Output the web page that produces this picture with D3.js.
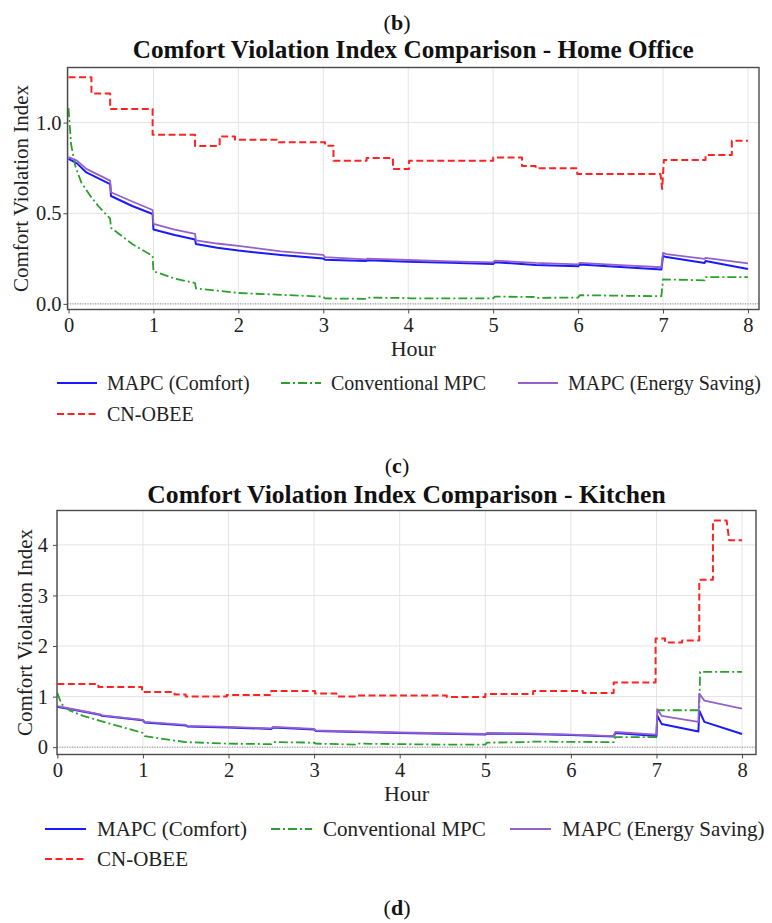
<!DOCTYPE html>
<html>
<head>
<meta charset="utf-8">
<script src="https://cdn.jsdelivr.net/npm/d3@7"></script>
<style>
body { margin: 0; background: #fff; }
svg { display: block; font-family: "Liberation Serif", "Times New Roman", serif; }
</style>
</head>
<body>
<div id="chart"></div>
<script>
// ---- data: [hour, comfort violation index] ----
var hours = [0, 1, 2, 3, 4, 5, 6, 7, 8];
var seriesNames = ["MAPC (Comfort)", "Conventional MPC", "MAPC (Energy Saving)", "CN-OBEE"];
var officeTicks = [0, 0.5, 1.0];
var kitchenTicks = [0, 1, 2, 3, 4];

var officeComfort = [[0,0.80],[0.1,0.775],[0.21,0.725],[0.49,0.661],[0.5,0.595],[0.75,0.54],[0.99,0.496],[1.0,0.41],[1.25,0.38],[1.49,0.355],[1.5,0.33],[1.75,0.31],[2.0,0.294],[2.5,0.27],[3.0,0.25],[3.02,0.244],[3.5,0.236],[3.52,0.241],[4.0,0.233],[4.5,0.227],[5.0,0.22],[5.02,0.23],[5.5,0.215],[6.0,0.207],[6.02,0.217],[6.5,0.203],[6.98,0.189],[7.0,0.264],[7.04,0.258],[7.49,0.226],[7.5,0.236],[8.0,0.193]];
var officeConventional = [[0,1.08],[0.03,0.88],[0.08,0.76],[0.15,0.67],[0.25,0.6],[0.35,0.54],[0.49,0.47],[0.5,0.42],[0.75,0.33],[0.99,0.265],[1.0,0.18],[1.25,0.14],[1.49,0.115],[1.5,0.085],[1.75,0.073],[2.0,0.06],[2.5,0.05],[3.0,0.04],[3.02,0.03],[3.5,0.028],[3.52,0.035],[4.0,0.032],[4.02,0.03],[5.0,0.03],[5.02,0.04],[5.5,0.038],[5.52,0.033],[6.0,0.035],[6.02,0.048],[6.98,0.042],[7.0,0.135],[7.49,0.13],[7.5,0.148],[8.0,0.148]];
var officeEnergy = [[0,0.81],[0.1,0.79],[0.21,0.745],[0.49,0.68],[0.5,0.616],[0.75,0.565],[0.99,0.518],[1.0,0.441],[1.25,0.41],[1.49,0.386],[1.5,0.35],[1.75,0.333],[2.0,0.32],[2.5,0.29],[3.0,0.27],[3.02,0.258],[3.5,0.246],[3.52,0.25],[4.0,0.242],[4.5,0.235],[5.0,0.229],[5.02,0.239],[5.5,0.226],[6.0,0.218],[6.02,0.226],[6.5,0.214],[6.98,0.202],[7.0,0.281],[7.04,0.274],[7.49,0.248],[7.5,0.254],[8.0,0.224]];
var officeObee = [[0,1.25],[0.27,1.25],[0.27,1.16],[0.49,1.16],[0.49,1.075],[0.99,1.075],[0.99,0.933],[1.49,0.933],[1.49,0.871],[1.78,0.871],[1.78,0.924],[1.96,0.924],[1.96,0.906],[2.45,0.906],[2.45,0.891],[3.02,0.891],[3.02,0.873],[3.12,0.873],[3.12,0.79],[3.51,0.79],[3.51,0.805],[3.82,0.805],[3.82,0.744],[4.01,0.744],[4.01,0.79],[5.0,0.79],[5.0,0.808],[5.34,0.808],[5.34,0.76],[5.5,0.76],[5.5,0.748],[5.99,0.748],[5.99,0.717],[6.97,0.717],[6.99,0.634],[7.01,0.794],[7.5,0.794],[7.5,0.821],[7.81,0.821],[7.81,0.9],[8.0,0.9]];

var kitchenComfort = [[0,0.80],[0.25,0.72],[0.5,0.64],[0.52,0.62],[1.0,0.53],[1.02,0.49],[1.5,0.43],[1.52,0.41],[2.0,0.39],[2.5,0.36],[2.52,0.39],[3.0,0.35],[3.02,0.32],[3.5,0.30],[4.0,0.28],[4.5,0.265],[5.0,0.25],[5.02,0.27],[5.5,0.26],[6.0,0.24],[6.5,0.21],[6.52,0.28],[7.0,0.22],[7.01,0.62],[7.06,0.46],[7.49,0.31],[7.5,0.72],[7.56,0.5],[8.0,0.26]];
var kitchenConventional = [[0,1.07],[0.05,0.85],[0.15,0.72],[0.3,0.62],[0.5,0.52],[0.75,0.4],[1.0,0.28],[1.02,0.22],[1.25,0.16],[1.5,0.1],[2.0,0.07],[2.5,0.06],[2.52,0.1],[3.0,0.09],[3.02,0.07],[3.5,0.05],[3.52,0.07],[4.5,0.05],[5.0,0.05],[5.02,0.09],[5.5,0.1],[5.52,0.11],[6.5,0.1],[6.52,0.2],[7.0,0.2],[7.01,0.73],[7.5,0.73],[7.51,1.49],[8.0,1.49]];
var kitchenEnergy = [[0,0.81],[0.25,0.73],[0.5,0.65],[0.52,0.63],[1.0,0.54],[1.02,0.5],[1.5,0.44],[1.52,0.42],[2.0,0.40],[2.5,0.37],[2.52,0.40],[3.0,0.36],[3.02,0.33],[3.5,0.31],[4.0,0.29],[4.5,0.275],[5.0,0.26],[5.02,0.28],[5.5,0.27],[6.0,0.25],[6.5,0.22],[6.52,0.3],[7.0,0.25],[7.01,0.75],[7.06,0.62],[7.49,0.5],[7.5,1.06],[7.56,0.92],[8.0,0.76]];
var kitchenObee = [[0,1.25],[0.48,1.25],[0.48,1.19],[0.99,1.19],[0.99,1.09],[1.37,1.09],[1.37,1.04],[1.5,1.04],[1.5,1.0],[1.98,1.0],[1.98,1.03],[2.5,1.03],[2.5,1.11],[3.01,1.11],[3.01,1.06],[3.26,1.06],[3.26,1.0],[3.5,1.0],[3.5,1.02],[4.55,1.02],[4.55,0.99],[5.0,0.99],[5.0,1.05],[5.56,1.05],[5.56,1.11],[6.14,1.11],[6.14,1.07],[6.5,1.07],[6.5,1.28],[6.99,1.28],[6.99,2.15],[7.1,2.15],[7.1,2.07],[7.3,2.07],[7.3,2.11],[7.5,2.11],[7.5,3.31],[7.66,3.31],[7.66,4.48],[7.82,4.48],[7.85,4.09],[8.0,4.09]];

// ---- styles for the four series ----
var seriesStyle = [
    {color: "#1a1aff", width: 2, dash: null},
    {color: "#2ca02c", width: 1.8, dash: "9,3,2,3"},
    {color: "#9561c9", width: 1.8, dash: null},
    {color: "#ff2222", width: 2, dash: "7,3.5"}
];

var svg = d3.select("#chart").append("svg")
    .attr("width", 772)
    .attr("height", 923);

var lineGen = d3.line();

function panelLetter(cx, cy, ch) {
    var t = svg.append("text")
        .attr("x", cx).attr("y", cy)
        .attr("text-anchor", "middle").attr("dy", "0.35em")
        .attr("fill", "#111")
        .style("font-size", "22px");
    t.append("tspan").text("(");
    t.append("tspan").style("font-weight", "bold").text(ch);
    t.append("tspan").text(")");
}

function drawPanel(p) {
    var x = d3.scaleLinear().domain(p.xDomain).range([p.left, p.right]);
    var y = d3.scaleLinear().domain(p.yDomain).range([p.bottom, p.top]);
    var g = svg.append("g");

    panelLetter(397, p.letterY, p.letter);

    g.append("text")
        .attr("x", (p.left + p.right) / 2)
        .attr("y", p.titleY)
        .attr("text-anchor", "middle")
        .attr("fill", "#111")
        .style("font-size", p.titleSize + "px")
        .style("font-weight", "bold")
        .text(p.title);

    // grid
    g.selectAll(".vgrid").data(hours).enter().append("line")
        .attr("x1", function (d) { return x(d); })
        .attr("x2", function (d) { return x(d); })
        .attr("y1", p.top).attr("y2", p.bottom)
        .attr("stroke", "#e4e4e4").attr("stroke-width", 1);
    g.selectAll(".hgrid").data(p.yTicks).enter().append("line")
        .attr("y1", function (d) { return y(d); })
        .attr("y2", function (d) { return y(d); })
        .attr("x1", p.left).attr("x2", p.right)
        .attr("stroke", "#e4e4e4").attr("stroke-width", 1);
    g.append("line")
        .attr("x1", p.left).attr("x2", p.right)
        .attr("y1", y(0)).attr("y2", y(0))
        .attr("stroke", "#888").attr("stroke-width", 1)
        .attr("stroke-dasharray", "1,1.5");

    var clipId = "clip-" + p.letter;
    svg.append("clipPath").attr("id", clipId)
        .append("rect")
        .attr("x", p.left).attr("y", p.top)
        .attr("width", p.right - p.left).attr("height", p.bottom - p.top);

    lineGen.x(function (d) { return x(d[0]); })
        .y(function (d) { return y(d[1]); });

    g.append("g").attr("clip-path", "url(#" + clipId + ")")
        .selectAll("path").data(p.series).enter().append("path")
        .attr("d", function (d) { return lineGen(d); })
        .attr("fill", "none")
        .attr("stroke", function (d, i) { return seriesStyle[i].color; })
        .attr("stroke-width", function (d, i) { return seriesStyle[i].width; })
        .attr("stroke-dasharray", function (d, i) { return seriesStyle[i].dash; })
        .attr("stroke-linejoin", "round");

    // frame
    g.append("rect")
        .attr("x", p.left).attr("y", p.top)
        .attr("width", p.right - p.left).attr("height", p.bottom - p.top)
        .attr("fill", "none").attr("stroke", "#4a4a4a").attr("stroke-width", 1.4);

    // axes
    var xAxis = g.append("g")
        .attr("transform", "translate(0," + p.bottom + ")")
        .call(d3.axisBottom(x).tickValues(hours).tickSize(4).tickPadding(p.xPad).tickFormat(d3.format("d")));
    var yAxis = g.append("g")
        .attr("transform", "translate(" + p.left + ",0)")
        .call(d3.axisLeft(y).tickValues(p.yTicks).tickSize(4).tickPadding(p.yPad).tickFormat(d3.format(p.yFormat)));
    [xAxis, yAxis].forEach(function (a) {
        a.select(".domain").remove();
        a.selectAll("line").attr("stroke", "#4a4a4a");
        a.selectAll("text")
            .attr("fill", "#222")
            .style("font-size", p.tickSize + "px")
            .style("font-family", "Liberation Serif, serif");
    });

    g.append("text")
        .attr("x", (p.left + p.right) / 2)
        .attr("y", p.hourY)
        .attr("text-anchor", "middle")
        .attr("dy", "0.35em")
        .attr("fill", "#222")
        .style("font-size", "22px")
        .text("Hour");

    g.append("text")
        .attr("transform", "translate(" + p.yLabelX + "," + ((p.top + p.bottom) / 2) + ") rotate(-90)")
        .attr("text-anchor", "middle")
        .attr("dy", "0.35em")
        .attr("fill", "#222")
        .style("font-size", "21px")
        .text("Comfort Violation Index");

    // legend, three per row
    var leg = g.selectAll(".legend").data(seriesNames).enter().append("g")
        .attr("transform", function (d, i) {
            return "translate(" + p.legendCols[i % 3] + "," + p.legendRows[Math.floor(i / 3)] + ")";
        });
    leg.append("line")
        .attr("x1", 0).attr("x2", p.legendLine)
        .attr("stroke", function (d, i) { return seriesStyle[i].color; })
        .attr("stroke-width", function (d, i) { return seriesStyle[i].width; })
        .attr("stroke-dasharray", function (d, i) { return seriesStyle[i].dash; });
    leg.append("text")
        .attr("x", p.legendText)
        .attr("dy", "0.33em")
        .attr("fill", "#222")
        .style("font-size", p.legendSize + "px")
        .text(function (d) { return d; });
}

drawPanel({
    letter: "b", letterY: 22, title: "Comfort Violation Index Comparison - Home Office", titleY: 58, titleSize: 25.2,
    left: 67.5, right: 759, top: 67.5, bottom: 309.5,
    xDomain: [-0.012, 8.13], yDomain: [-0.031, 1.304],
    yTicks: officeTicks, yFormat: ".1f",
    series: [officeComfort, officeConventional, officeEnergy, officeObee],
    tickSize: 20.5, xPad: 4, yPad: 2, hourY: 348, yLabelX: 21,
    legendCols: [57, 281, 518], legendRows: [383, 414], legendLine: 40, legendText: 50, legendSize: 20
});

drawPanel({
    letter: "c", letterY: 465, title: "Comfort Violation Index Comparison - Kitchen", titleY: 503, titleSize: 25.6,
    left: 57, right: 756, top: 510.5, bottom: 754.5,
    xDomain: [-0.004, 8.163], yDomain: [-0.145, 4.68],
    yTicks: kitchenTicks, yFormat: "d",
    series: [kitchenComfort, kitchenConventional, kitchenEnergy, kitchenObee],
    tickSize: 20.5, xPad: 4, yPad: 5, hourY: 793, yLabelX: 25,
    legendCols: [45, 271, 510], legendRows: [829, 859], legendLine: 41, legendText: 52, legendSize: 21
});

panelLetter(397, 907, "d");
</script>
</body>
</html>
